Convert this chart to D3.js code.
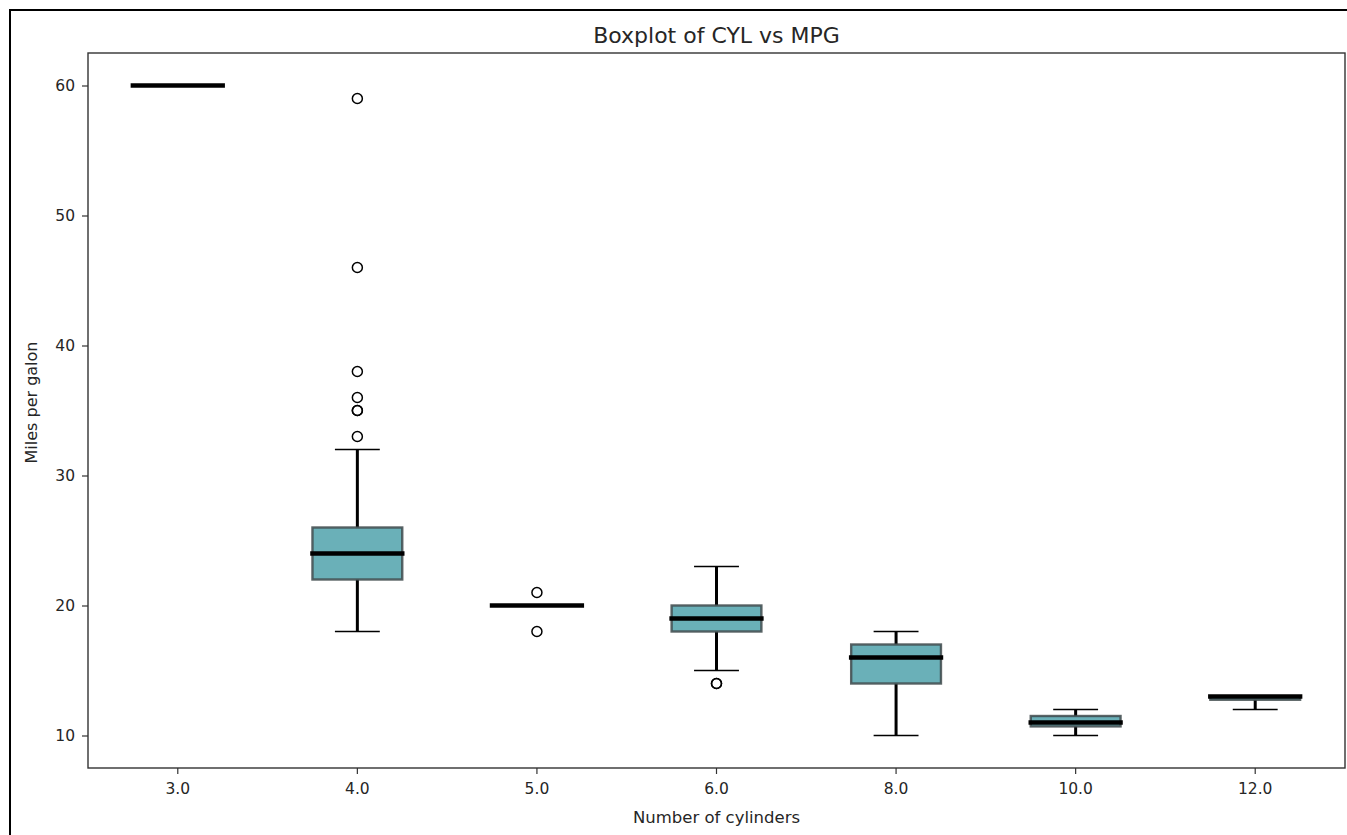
<!DOCTYPE html>
<html>
<head>
<meta charset="utf-8">
<script src="https://cdn.jsdelivr.net/npm/d3@7"></script>
<style>
  html, body { margin: 0; padding: 0; background: #fff; }
  svg { display: block; }
  text { font-family: "DejaVu Sans", sans-serif; fill: #262626; }
</style>
</head>
<body>
<svg id="chart" width="1347" height="835"></svg>
<script>
// Number of cylinders (categories along x)
const cylinders = ["3.0", "4.0", "5.0", "6.0", "8.0", "10.0", "12.0"];

// Box statistics of miles per gallon for each cylinder group
const whiskerLow  = [60, 18, 20, 15, 10, 10,   12];
const q1          = [60, 22, 20, 18, 14, 10.7, 12.75];
const medians     = [60, 24, 20, 19, 16, 11,   13];
const q3          = [60, 26, 20, 20, 17, 11.5, 13];
const whiskerHigh = [60, 32, 20, 23, 18, 12,   13];

// Points beyond the whiskers
const outliers = [
  [],
  [59, 46, 38, 36, 35, 35, 33],
  [21, 18],
  [14, 14],
  [],
  [],
  []
];

const yTicks = [10, 20, 30, 40, 50, 60];

const svg = d3.select("#chart");
const W = 1347, H = 835;
const plot = { left: 88, right: 1345, top: 53, bottom: 768 };

// outer figure frame
svg.append("rect")
  .attr("x", 10).attr("y", 10)
  .attr("width", W).attr("height", H)
  .attr("fill", "none").attr("stroke", "#000").attr("stroke-width", 2);

const x = d3.scaleBand()
  .domain(cylinders)
  .range([plot.left, plot.right])
  .paddingInner(0).paddingOuter(0);
const bw = x.bandwidth();
const cx = c => x(c) + bw / 2;

const y = d3.scaleLinear().domain([7.5, 62.5]).range([plot.bottom, plot.top]);

const boxW = bw * 0.5;
const capW = boxW * 0.5;

const groups = cylinders.map((c, i) => ({
  c, lo: whiskerLow[i], q1: q1[i], med: medians[i], q3: q3[i], hi: whiskerHigh[i], out: outliers[i]
}));

const g = svg.append("g");

// whiskers
g.selectAll(".whisker-low").data(groups).join("line")
  .attr("x1", d => cx(d.c)).attr("x2", d => cx(d.c))
  .attr("y1", d => y(d.q1)).attr("y2", d => y(d.lo))
  .attr("stroke", "#000").attr("stroke-width", 3);
g.selectAll(".whisker-high").data(groups).join("line")
  .attr("x1", d => cx(d.c)).attr("x2", d => cx(d.c))
  .attr("y1", d => y(d.q3)).attr("y2", d => y(d.hi))
  .attr("stroke", "#000").attr("stroke-width", 3);

// caps
g.selectAll(".cap-low").data(groups).join("line")
  .attr("x1", d => cx(d.c) - capW / 2).attr("x2", d => cx(d.c) + capW / 2)
  .attr("y1", d => y(d.lo)).attr("y2", d => y(d.lo))
  .attr("stroke", "#000").attr("stroke-width", 1.6);
g.selectAll(".cap-high").data(groups).join("line")
  .attr("x1", d => cx(d.c) - capW / 2).attr("x2", d => cx(d.c) + capW / 2)
  .attr("y1", d => y(d.hi)).attr("y2", d => y(d.hi))
  .attr("stroke", "#000").attr("stroke-width", 1.6);

// boxes
g.selectAll(".box").data(groups).join("rect")
  .attr("x", d => cx(d.c) - boxW / 2)
  .attr("y", d => y(d.q3))
  .attr("width", boxW)
  .attr("height", d => Math.max(0, y(d.q1) - y(d.q3)))
  .attr("fill", "#6ab0b8")
  .attr("stroke", "#3f4a4c").attr("stroke-width", 2.4).attr("stroke-opacity", 0.85);

// medians
g.selectAll(".median").data(groups).join("line")
  .attr("x1", d => cx(d.c) - boxW / 2).attr("x2", d => cx(d.c) + boxW / 2)
  .attr("y1", d => y(d.med)).attr("y2", d => y(d.med))
  .attr("stroke", "#000").attr("stroke-width", 4.5).attr("stroke-linecap", "square");

// fliers
const fliers = groups.flatMap(d => d.out.map(v => ({ c: d.c, v })));
g.selectAll(".flier").data(fliers).join("circle")
  .attr("cx", d => cx(d.c)).attr("cy", d => y(d.v))
  .attr("r", 5)
  .attr("fill", "none").attr("stroke", "#000").attr("stroke-width", 1.5);

// axes
const xAxis = d3.axisBottom(x).tickSize(6).tickPadding(9);
const yAxis = d3.axisLeft(y).tickValues(yTicks).tickFormat(d3.format("d")).tickSize(6).tickPadding(7);

const xg = svg.append("g").attr("transform", `translate(0,${plot.bottom})`).call(xAxis);
const yg = svg.append("g").attr("transform", `translate(${plot.left},0)`).call(yAxis);
[xg, yg].forEach(a => {
  a.attr("font-size", null).attr("font-family", null);
  a.select(".domain").remove();
  a.selectAll(".tick line").attr("stroke", "#333").attr("stroke-width", 1.2);
  a.selectAll(".tick text")
    .style("font-size", "15.5px")
    .style("font-family", "'DejaVu Sans', sans-serif")
    .attr("fill", "#262626");
});

// plot frame (spines)
svg.append("rect")
  .attr("x", plot.left).attr("y", plot.top)
  .attr("width", plot.right - plot.left).attr("height", plot.bottom - plot.top)
  .attr("fill", "none").attr("stroke", "#333").attr("stroke-width", 1.4);

// title and axis labels
svg.append("text")
  .attr("x", (plot.left + plot.right) / 2).attr("y", 43)
  .attr("text-anchor", "middle").attr("font-size", 22)
  .text("Boxplot of CYL vs MPG");

svg.append("text")
  .attr("x", (plot.left + plot.right) / 2).attr("y", 823)
  .attr("text-anchor", "middle").attr("font-size", 16.5)
  .text("Number of cylinders");

svg.append("text")
  .attr("transform", `translate(37,${(plot.top + plot.bottom) / 2 - 8}) rotate(-90)`)
  .attr("text-anchor", "middle").attr("font-size", 16)
  .text("Miles per galon");
</script>
</body>
</html>
